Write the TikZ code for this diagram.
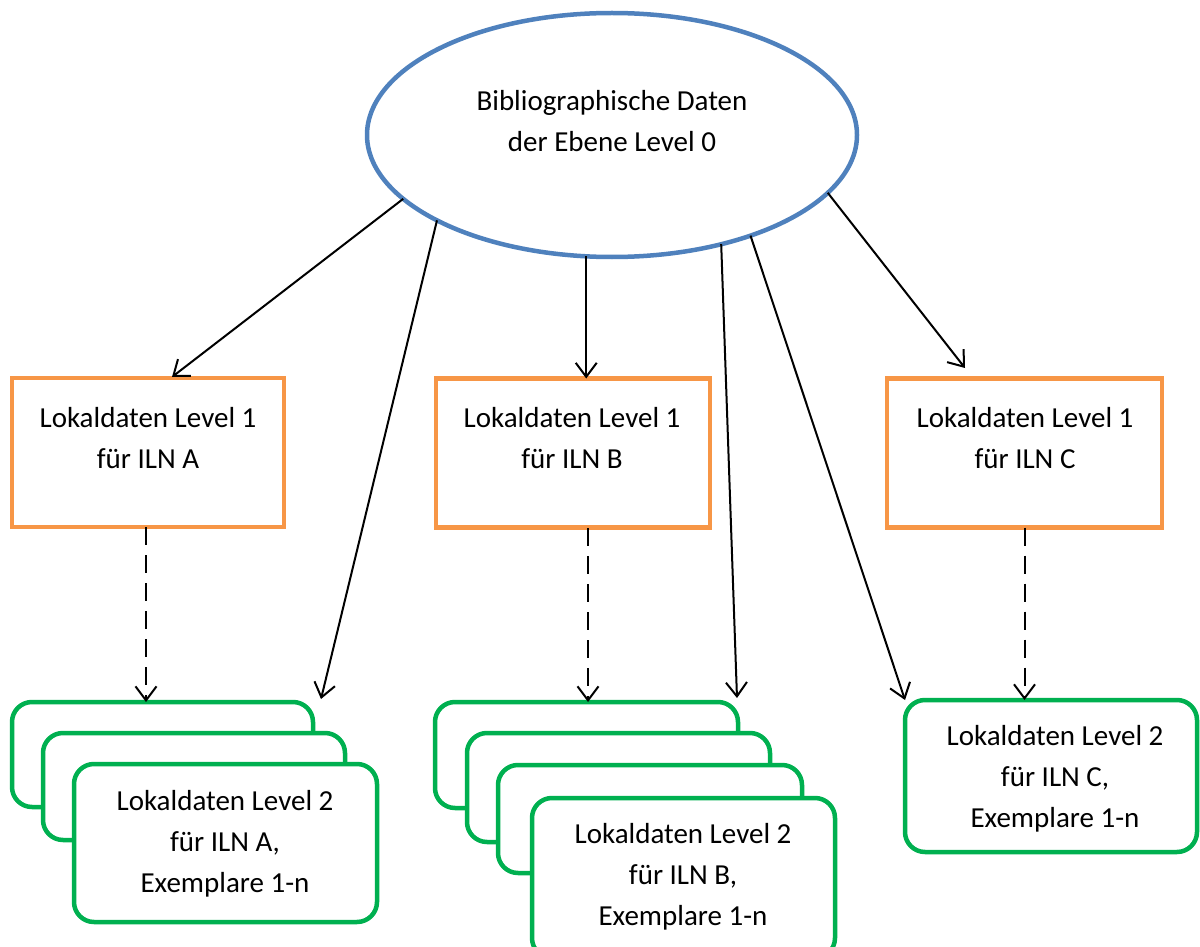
\documentclass[tikz,border=0pt]{standalone}
\usepackage{fontspec}
\setmainfont{Carlito}
\usetikzlibrary{shapes.geometric,arrows.meta}
\definecolor{blueC}{HTML}{4F81BD}
\definecolor{orangeC}{HTML}{F79646}
\definecolor{greenC}{HTML}{00B050}
\begin{document}
\begin{tikzpicture}[x=1pt,y=-1pt,
  lbl/.style={align=center,inner sep=0pt,font=\fontsize{29}{41}\selectfont},
  obox/.style={draw=orangeC,line width=4.5pt,fill=white,minimum height=149pt,inner sep=0pt,outer sep=0pt},
  gbox/.style={draw=greenC,line width=4.5pt,fill=white,rounded corners=20pt,inner sep=0pt,outer sep=0pt},
  arr/.style={line width=2pt,-{Straight Barb[length=14pt,width=21pt,line width=2pt]}},
  darr/.style={arr,dash pattern=on 18pt off 10pt}]
\useasboundingbox (0,0) rectangle (1200,947);
% ellipse
\node[ellipse,draw=blueC,line width=4.5pt,fill=white,minimum width=490pt,minimum height=244pt,inner sep=0pt,outer sep=0pt] (ell) at (612,135) {};
\node[lbl] (tell) at (612,121) {Bibliographische Daten\\der Ebene Level 0};
% orange boxes
\node[obox,minimum width=272pt] (oA) at (148,452.5) {};
\node[obox,minimum width=274pt] (oB) at (573,453) {};
\node[obox,minimum width=275pt] (oC) at (1024.5,453) {};
\node[lbl] (toA) at (148,438) {Lokaldaten Level 1\\für ILN A};
\node[lbl] (toB) at (572,438) {Lokaldaten Level 1\\für ILN B};
\node[lbl] (toC) at (1025,438) {Lokaldaten Level 1\\für ILN C};
% green boxes A
\node[gbox,minimum width=301pt,minimum height=105pt] (gA1) at (162.5,754.5) {};
\node[gbox,minimum width=302pt,minimum height=107pt] (gA2) at (194,786.5) {};
\node[gbox,minimum width=303pt,minimum height=158pt] (gA3) at (225.5,843) {};
\node[lbl] (tgA) at (225,844) {Lokaldaten Level 2\\für ILN A,\\Exemplare 1-n};
% green boxes B
\node[gbox,minimum width=303pt,minimum height=106pt] (gB1) at (586.5,755) {};
\node[gbox,minimum width=303pt,minimum height=109pt] (gB2) at (618.5,787.5) {};
\node[gbox,minimum width=304pt,minimum height=108pt] (gB3) at (650,819) {};
\node[gbox,minimum width=303pt,minimum height=160pt] (gB4) at (683.5,878) {};
\node[lbl] (tgB) at (683,877) {Lokaldaten Level 2\\für ILN B,\\Exemplare 1-n};
% green box C
\node[gbox,minimum width=292pt,minimum height=152pt] (gC) at (1051,776) {};
\node[lbl] (tgC) at (1055,779) {Lokaldaten Level 2\\für ILN C,\\Exemplare 1-n};
% arrow end points
\coordinate (eA) at (172,377);
\coordinate (tA) at (321,699);
\coordinate (tB) at (737,698);
\coordinate (eC) at (965,368);
\coordinate (dB) at (588,528);
% solid arrows
\draw[arr] (ell.197.6) -- (eA);
\draw[arr] (ell.206) -- (tA);
\draw[arr] (ell.258.9) -- (ell.258.9 |- oB.north);
\draw[arr] (ell.315.8) -- (tB);
\draw[arr] (ell.324.5) -- (gC.north west);
\draw[arr] (ell.345.7) -- (eC);
% dashed arrows
\draw[darr] ([xshift=-2pt]oA.south) -- ([xshift=-2pt]oA.south |- gA1.north);
\draw[darr] (dB) -- (dB |- gB1.north);
\draw[darr] (oC.south) -- (oC.south |- gC.north);
\end{tikzpicture}
\end{document}
